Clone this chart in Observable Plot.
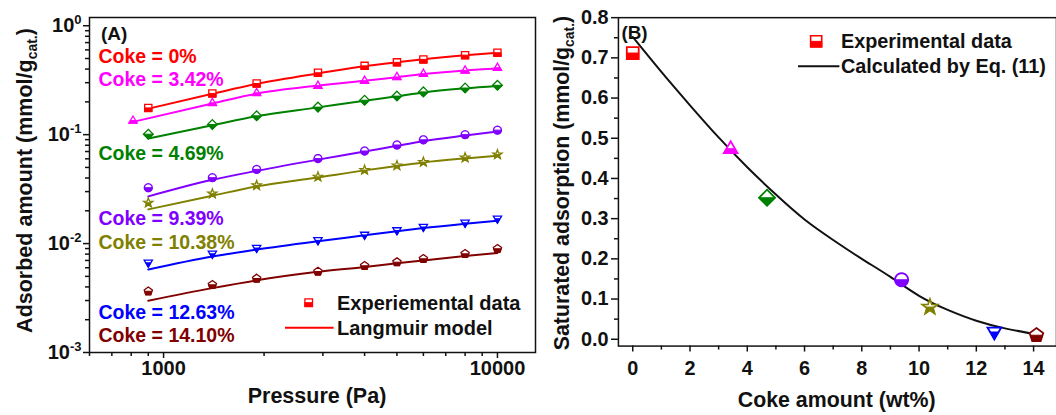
<!DOCTYPE html>
<html><head><meta charset="utf-8">
<script src="https://cdn.jsdelivr.net/npm/d3@7"></script>
<script src="https://cdn.jsdelivr.net/npm/@observablehq/plot@0.6"></script>
<style>
html,body{margin:0;padding:0;background:#fff;overflow:hidden}
#chart{position:relative;width:1056px;height:415px;overflow:hidden;background:#fff}
.panel{position:absolute;top:0}
</style></head><body><div id="chart"></div>
<script>
// ---------- DATA ----------
const pressure = [900, 1400, 1900, 2900, 4000, 5000, 6000, 8000, 10000];
const pressure342 = [810, 1400, 1900, 2900, 4000, 5000, 6000, 8000, 10000];

const exp0 = [0.176, 0.239, 0.295, 0.370, 0.428, 0.461, 0.491, 0.537, 0.565];
const fit0 = [0.173, 0.237, 0.292, 0.365, 0.425, 0.462, 0.492, 0.535, 0.565];
const exp342 = [0.135, 0.196, 0.242, 0.282, 0.313, 0.339, 0.363, 0.389, 0.412];
const fit342 = [0.131, 0.193, 0.238, 0.282, 0.313, 0.337, 0.360, 0.389, 0.405];
const exp469 = [0.101, 0.124, 0.149, 0.179, 0.207, 0.226, 0.247, 0.268, 0.284];
const fit469 = [0.092, 0.122, 0.148, 0.178, 0.205, 0.225, 0.244, 0.266, 0.280];
const exp939 = [0.0326, 0.0403, 0.0480, 0.0603, 0.0708, 0.0804, 0.0897, 0.100, 0.110];
const fit939 = [0.0271, 0.0385, 0.0465, 0.059, 0.070, 0.079, 0.087, 0.098, 0.107];
const exp1038 = [0.0237, 0.0287, 0.0342, 0.0410, 0.0473, 0.0521, 0.0560, 0.0615, 0.0656];
const fit1038 = [0.0206, 0.0275, 0.0335, 0.0405, 0.047, 0.0515, 0.0555, 0.0605, 0.064];
const exp1263 = [0.00666, 0.00805, 0.00910, 0.0107, 0.0120, 0.0132, 0.0142, 0.0155, 0.0169];
const fit1263 = [0.00577, 0.0076, 0.0088, 0.0105, 0.0119, 0.0130, 0.0139, 0.0152, 0.0162];
const exp1410 = [0.00365, 0.00418, 0.00478, 0.00554, 0.00625, 0.00675, 0.00725, 0.00805, 0.00896];
const fit1410 = [0.00299, 0.0039, 0.0046, 0.0055, 0.0061, 0.0066, 0.0070, 0.0077, 0.0082];

const cokeLabels = ["Coke = 0%", "Coke = 3.42%", "Coke = 4.69%", "Coke = 9.39%", "Coke = 10.38%", "Coke = 12.63%", "Coke = 14.10%"];
const cokeAmount = [0, 3.42, 4.69, 9.39, 10.38, 12.63, 14.10];
const satAdsorption = [0.712, 0.474, 0.352, 0.148, 0.080, 0.018, 0.010];

const eqCoke = [0, 1, 2, 3, 4, 5, 6, 7, 8, 9, 10, 11, 12, 13, 14.1];
const eqSat = [0.752, 0.665, 0.582, 0.502, 0.428, 0.360, 0.298, 0.247, 0.200, 0.155, 0.108, 0.073, 0.046, 0.027, 0.012];

const pressureTicks = [1000, 10000];
const pressureMinor = [600, 700, 800, 900, 2000, 3000, 4000, 5000, 6000, 7000, 8000, 9000];
const adsTicks = [0.001, 0.01, 0.1, 1];
const adsMinor = [2,3,4,5,6,7,8,9].flatMap(k => [k*0.001, k*0.01, k*0.1]);
const cokeTicks = [0, 2, 4, 6, 8, 10, 12, 14];
const cokeMinor = [1, 3, 5, 7, 9, 11, 13];
const satTicks = [0, 0.1, 0.2, 0.3, 0.4, 0.5, 0.6, 0.7, 0.8];
const satMinor = [0.05, 0.15, 0.25, 0.35, 0.45, 0.55, 0.65, 0.75];

const legendA = ["Experiemental data", "Langmuir model"];
const legendB = ["Experimental data", "Calculated by Eq. (11)"];

// ---------- STYLE ----------
const FONT = 'Arial, "Liberation Sans", sans-serif';
const INK = "#111";
const colors = ["#ff0000", "#ff00ff", "#008000", "#8000ff", "#808000", "#0000ff", "#800000"];

const SHAPES = [
  [[-1,-1],[1,-1],[1,1],[-1,1]],
  [[0,-1.25],[1.15,0.75],[-1.15,0.75]],
  [[0,-1.35],[1.35,0],[0,1.35],[-1.35,0]],
  d3.range(24).map(k => [1.1*Math.cos(2*Math.PI*k/24), 1.1*Math.sin(2*Math.PI*k/24)]),
  d3.range(10).map(k => { const a = -Math.PI/2 + Math.PI*k/5, rr = k % 2 ? 0.55 : 1.35; return [rr*Math.cos(a), rr*Math.sin(a)]; }),
  [[-1.15,-0.75],[1.15,-0.75],[0,1.25]],
  d3.range(5).map(k => { const a = -Math.PI/2 + 2*Math.PI*k/5; return [1.2*Math.cos(a), 1.2*Math.sin(a)]; })
];
function lowerHalf(pts) {
  const out = [];
  for (let i = 0; i < pts.length; i++) {
    const a = pts[i], b = pts[(i+1) % pts.length];
    const ina = a[1] >= 0, inb = b[1] >= 0;
    if (ina) out.push(a);
    if (ina !== inb) { const t = a[1]/(a[1]-b[1]); out.push([a[0]+t*(b[0]-a[0]), 0]); }
  }
  return out;
}
function polySymbol(pts) {
  return { draw(ctx, size) {
    const r = Math.sqrt(size/Math.PI);
    pts.forEach(([x,y], i) => i ? ctx.lineTo(x*r, y*r) : ctx.moveTo(x*r, y*r));
    ctx.closePath();
  }};
}
const fullSym = SHAPES.map(polySymbol);
const halfSym = SHAPES.map(s => polySymbol(lowerHalf(s)));

function halfDots(rows, x, y, i, r, sw) {
  return [
    Plot.dot(rows, {x, y, symbol: fullSym[i], r, fill: "white", stroke: colors[i], strokeWidth: sw}),
    Plot.dot(rows, {x, y, symbol: halfSym[i], r, fill: colors[i], stroke: colors[i], strokeWidth: 1})
  ];
}
const noText = () => "";

// ---------- PANEL A ----------
const seriesA = [
  {p: pressure, exp: exp0, fit: fit0},
  {p: pressure342, exp: exp342, fit: fit342},
  {p: pressure, exp: exp469, fit: fit469},
  {p: pressure, exp: exp939, fit: fit939},
  {p: pressure, exp: exp1038, fit: fit1038},
  {p: pressure, exp: exp1263, fit: fit1263},
  {p: pressure, exp: exp1410, fit: fit1410}
];
const marksA = [];
seriesA.forEach((s, i) => {
  const rows = s.p.map((p, j) => ({p, q: s.fit[j]}));
  marksA.push(Plot.line(rows, {x: "p", y: "q", stroke: colors[i], strokeWidth: 2, curve: "monotone-x"}));
});
seriesA.forEach((s, i) => {
  const rows = s.p.map((p, j) => ({p, q: s.exp[j]}));
  marksA.push(...halfDots(rows, "p", "q", i, 3.6, 1.3));
});
marksA.push(
  Plot.frame({stroke: INK, strokeWidth: 1.5}),
  Plot.axisX({ticks: pressureTicks, tickSize: 6, tickPadding: 2, tickFormat: d3.format("d"), fontSize: 20, label: null, stroke: INK, strokeWidth: 1.5}),
  Plot.axisX({ticks: pressureMinor, tickSize: 4, tickFormat: noText, label: null, stroke: INK, strokeWidth: 1.5}),
  Plot.axisY({ticks: adsTicks, tickSize: 6, tickPadding: 2, tickFormat: d => "10^" + Math.round(Math.log10(d)), fontSize: 20, label: null, stroke: INK, strokeWidth: 1.5}),
  Plot.axisY({ticks: adsMinor, tickSize: 4, tickFormat: noText, label: null, stroke: INK, strokeWidth: 1.5})
);
const svgA = Plot.plot({
  width: 545, height: 415,
  marginLeft: 89, marginRight: 10, marginTop: 17, marginBottom: 63,
  x: {type: "log", domain: [600, 13000]},
  y: {type: "log", domain: [0.001, 1.19]},
  style: {fontFamily: FONT, fontWeight: "bold", fontSize: "20px", color: INK, background: "transparent", overflow: "visible"},
  marks: marksA
});

// ---------- PANEL B ----------
const marksB = [
  Plot.frame({stroke: INK, strokeWidth: 1.5}),
  Plot.line(eqCoke.map((c, j) => ({c, s: eqSat[j]})), {x: "c", y: "s", stroke: INK, strokeWidth: 2, curve: "natural"})
];
cokeAmount.forEach((c, i) => {
  marksB.push(...halfDots([{c, s: satAdsorption[i]}], "c", "s", i, 6, 1.8));
});
marksB.push(
  Plot.axisX({ticks: cokeTicks, tickSize: 6, tickPadding: 9, tickFormat: d3.format("d"), fontSize: 20, label: null, stroke: INK, strokeWidth: 1.5}),
  Plot.axisX({ticks: cokeMinor, tickSize: 4, tickFormat: noText, label: null, stroke: INK, strokeWidth: 1.5}),
  Plot.axisY({ticks: satTicks, tickSize: 7, tickPadding: 3, tickFormat: d3.format(".1f"), fontSize: 20, label: null, stroke: INK, strokeWidth: 1.5}),
  Plot.axisY({ticks: satMinor, tickSize: 4, tickFormat: noText, label: null, stroke: INK, strokeWidth: 1.5})
);
const svgB = Plot.plot({
  width: 515, height: 415,
  marginLeft: 73.5, marginRight: 0, marginTop: 17.3, marginBottom: 66.7,
  x: {domain: [-0.5, 14.8]},
  y: {domain: [-0.017, 0.8]},
  style: {fontFamily: FONT, fontWeight: "bold", fontSize: "20px", color: INK, background: "transparent"},
  marks: marksB
});

// ---------- assemble ----------
const chart = document.getElementById("chart");
function place(svg, left) {
  const d = document.createElement("div");
  d.className = "panel"; d.style.left = left + "px";
  d.append(svg); chart.append(d);
}
place(svgA, 0);
place(svgB, 545);

// superscripts on log tick labels
d3.select(svgA).selectAll('g[aria-label="y-axis tick label"] text').each(function() {
  const m = this.textContent.match(/^10\^(.*)$/);
  if (!m) return;
  const t = d3.select(this); t.text("");
  t.append("tspan").text("10");
  t.append("tspan").attr("font-size", 13).attr("dy", -8).text(m[1]);
});

function addText(svg, x, y, parts, {size = 20, fill = INK, anchor = "start", rotate = 0} = {}) {
  const t = d3.select(svg).append("text")
    .attr("transform", `translate(${x},${y}) rotate(${rotate})`)
    .attr("text-anchor", anchor).attr("dy", "0.35em")
    .attr("font-family", FONT).attr("font-weight", "bold")
    .attr("font-size", size).attr("fill", fill);
  let shift = 0;
  parts.forEach(p => {
    const ts = t.append("tspan").text(p.t);
    if (p.sub) { ts.attr("font-size", size*0.65).attr("dy", 5); shift = 5; }
    else if (shift) { ts.attr("dy", -shift); shift = 0; }
  });
  return t;
}
function symPath(i, r, half) {
  const p = d3.path();
  (half ? halfSym : fullSym)[i].draw(p, r*r*Math.PI);
  return p.toString();
}
function legendMarker(svg, x, y, i, r, sw) {
  const g = d3.select(svg).append("g").attr("transform", `translate(${x},${y})`);
  g.append("path").attr("d", symPath(i, r, false)).attr("fill", "white").attr("stroke", colors[i]).attr("stroke-width", sw);
  g.append("path").attr("d", symPath(i, r, true)).attr("fill", colors[i]).attr("stroke", colors[i]).attr("stroke-width", 1);
}

// Panel A annotations
addText(svgA, 101, 33, [{t: "(A)"}], {size: 19});
const labelY = [56, 79, 152.7, 218.3, 241.7, 311.7, 335];
cokeLabels.forEach((s, i) => addText(svgA, 98.5, labelY[i], [{t: s}], {size: 19.5, fill: colors[i]}));
legendMarker(svgA, 308.7, 302.7, 0, 3.8, 1.3);
d3.select(svgA).append("line").attr("x1", 285).attr("x2", 333.6).attr("y1", 327.7).attr("y2", 327.7)
  .attr("stroke", colors[0]).attr("stroke-width", 2);
addText(svgA, 337, 302.7, [{t: legendA[0]}]);
addText(svgA, 337, 327.7, [{t: legendA[1]}]);
addText(svgA, 317, 395, [{t: "Pressure (Pa)"}], {size: 21.5, anchor: "middle"});
addText(svgA, 24, 180.5, [{t: "Adsorbed amount (mmol/g"}, {t: "cat.", sub: true}, {t: ")"}], {size: 21.5, anchor: "middle", rotate: -90});

// Panel B annotations (svg B origin at x=545)
const ox = 545;
addText(svgB, 622 - ox, 33, [{t: "(B)"}], {size: 19});
legendMarker(svgB, 818.3 - ox, 41.7, 0, 5.6, 1.6);
d3.select(svgB).append("line").attr("x1", 800 - ox).attr("x2", 841.7 - ox).attr("y1", 66.7).attr("y2", 66.7)
  .attr("stroke", INK).attr("stroke-width", 2);
addText(svgB, 843.3 - ox, 41.7, [{t: legendB[0]}]);
addText(svgB, 843.3 - ox, 66.7, [{t: legendB[1]}]);
addText(svgB, 839 - ox, 403, [{t: "Coke amount (wt%)"}], {size: 21.5, anchor: "middle"});
addText(svgB, 561.7 - ox, 184.5, [{t: "Saturated adsorption (mmol/g"}, {t: "cat.", sub: true}, {t: ")"}], {size: 21.5, anchor: "middle", rotate: -90});
</script></body></html>
